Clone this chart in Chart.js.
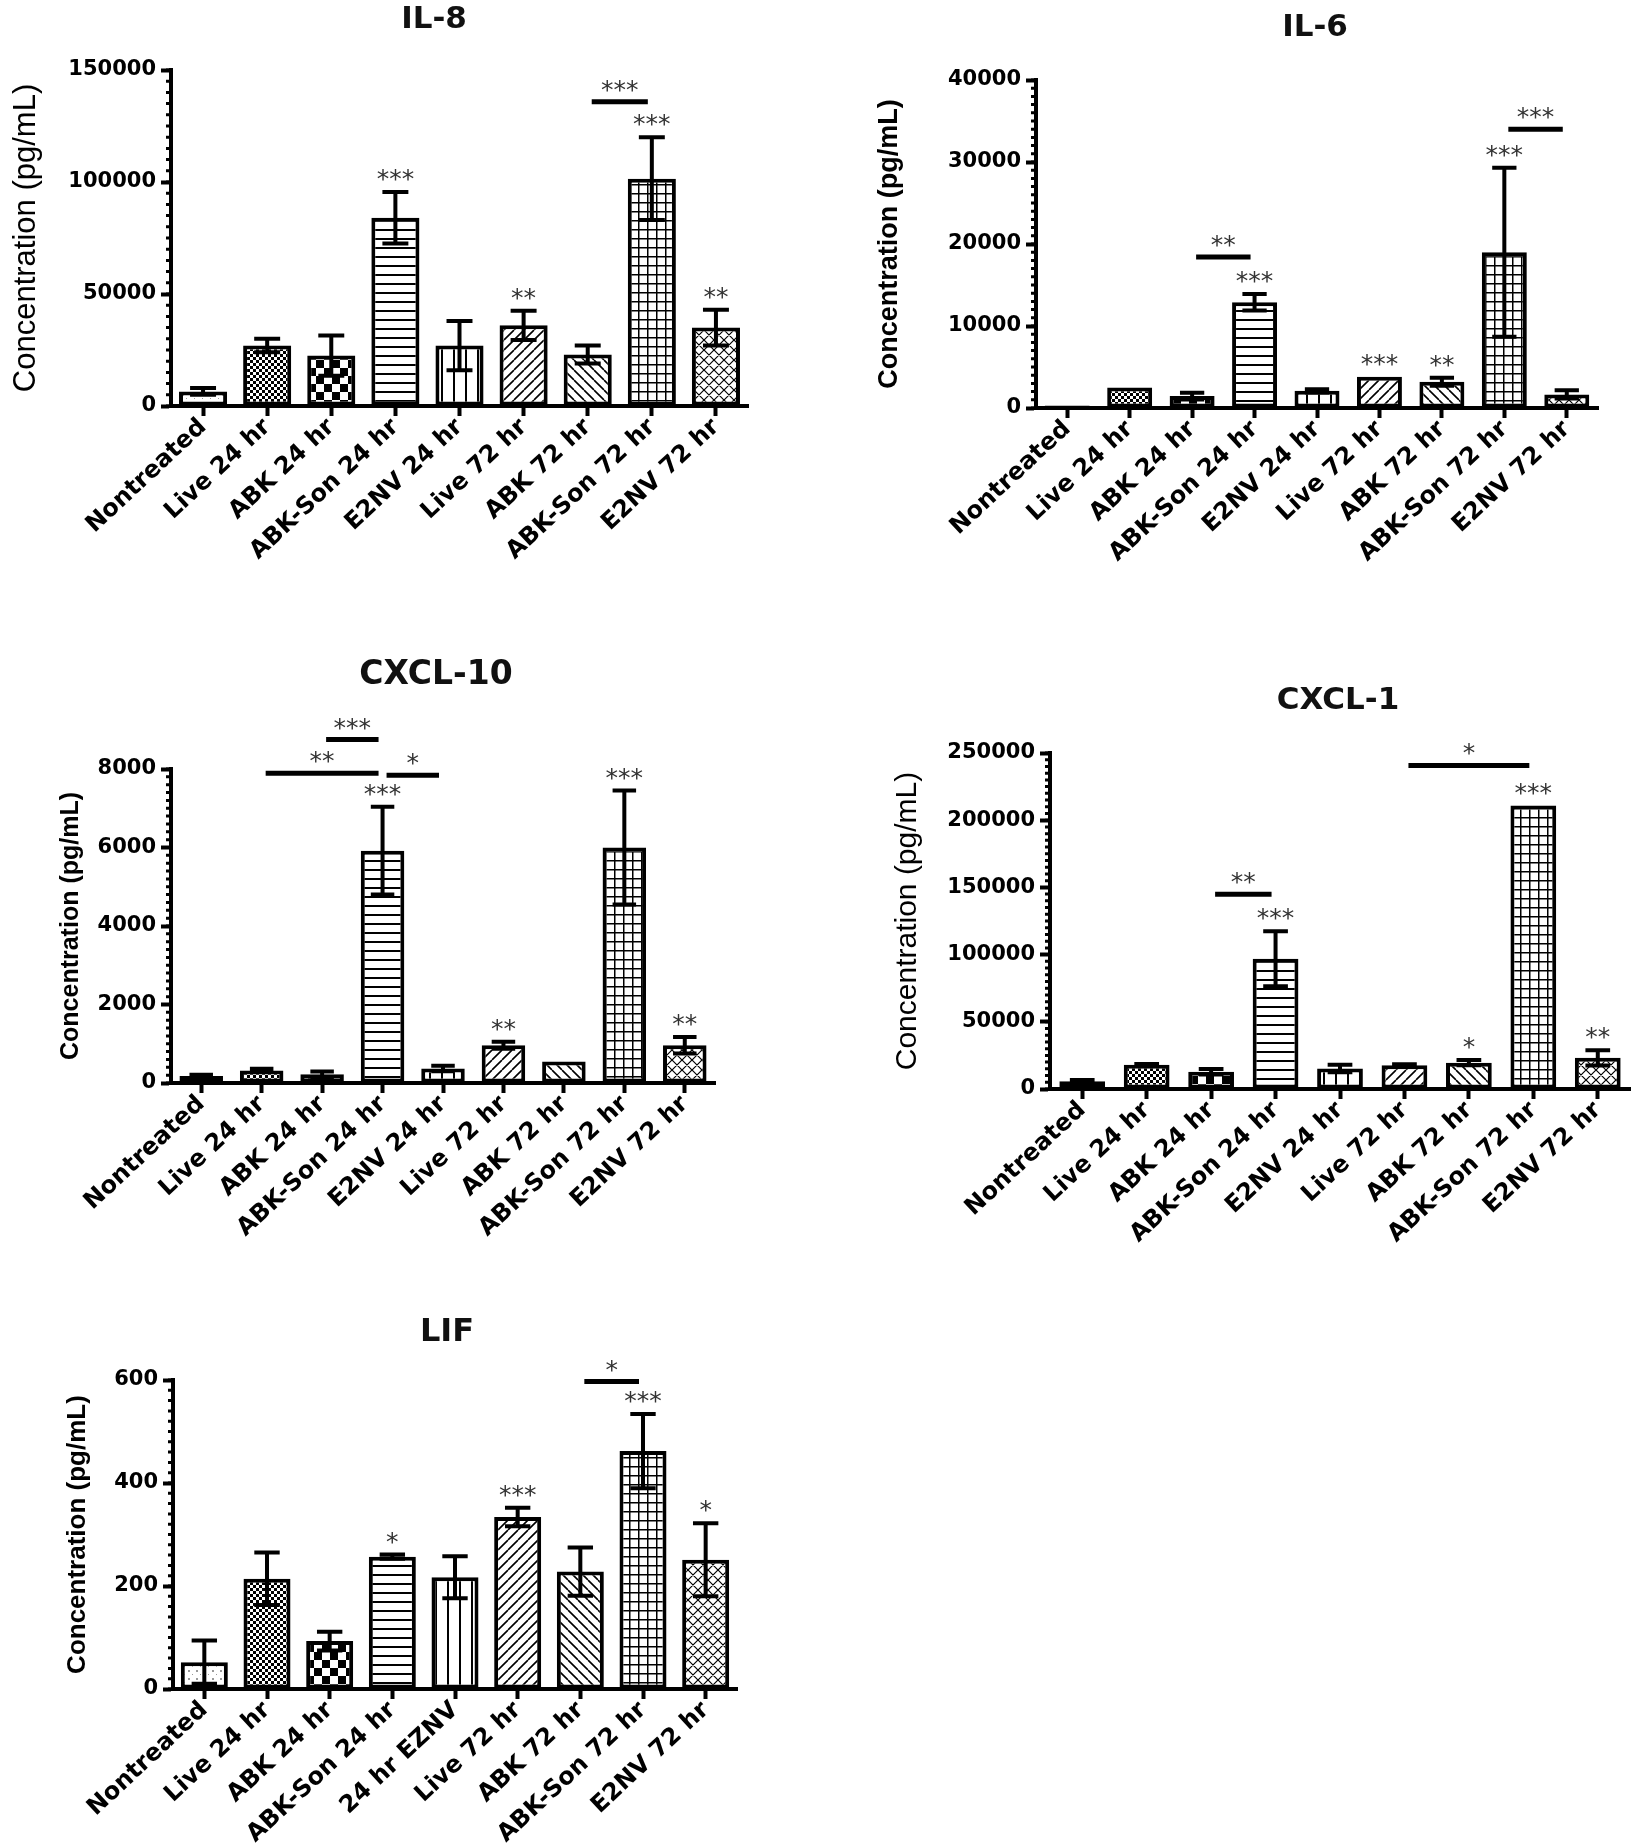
<!DOCTYPE html>
<html lang="en">
<head>
<meta charset="UTF-8">
<title>Cytokine concentrations</title>
<style>
  body { margin: 0; background: #fff; }
  #page { position: relative; width: 1647px; height: 1848px; overflow: hidden; }
  canvas { position: absolute; }
</style>
</head>
<body>
<div id="page">
  <canvas id="il8"></canvas>
  <canvas id="il6"></canvas>
  <canvas id="cxcl10"></canvas>
  <canvas id="cxcl1"></canvas>
  <canvas id="lif"></canvas>
</div>

<script src="https://cdn.jsdelivr.net/npm/chart.js"></script>
<script>
// ---- data ----
const groups = ['Nontreated', 'Live 24 hr', 'ABK 24 hr', 'ABK-Son 24 hr', 'E2NV 24 hr',
  'Live 72 hr', 'ABK 72 hr', 'ABK-Son 72 hr', 'E2NV 72 hr'];
const groupsLif = ['Nontreated', 'Live 24 hr', 'ABK 24 hr', 'ABK-Son 24 hr', '24 hr EZNV',
  'Live 72 hr', 'ABK 72 hr', 'ABK-Son 72 hr', 'E2NV 72 hr'];

const il8Mean = [6500, 27000, 22500, 84000, 27000, 36000, 23000, 101500, 35000];
const il8Err = [1500, 3000, 9000, 11500, 11000, 6500, 4000, 18500, 8000];
const il8Stars = ['', '', '', '***', '', '**', '', '***', '**'];
const il8Brackets = [[6, 7, 135800, '***']];
const il8Ticks = [0, 150000, 50000];

const il6Mean = [300, 2500, 1450, 12900, 2100, 3800, 3200, 19000, 1650];
const il6Err = [0, 0, 400, 1000, 200, 0, 500, 10300, 500];
const il6Stars = ['', '', '', '***', '', '***', '**', '***', ''];
const il6Brackets = [[2, 3, 18400, '**'], [7, 8, 34000, '***']];
const il6Ticks = [0, 40000, 10000];

const cxcl10Mean = [180, 320, 225, 5920, 370, 960, 550, 6000, 960];
const cxcl10Err = [30, 40, 70, 1120, 70, 90, 0, 1450, 210];
const cxcl10Stars = ['', '', '', '***', '', '**', '', '***', '**'];
const cxcl10Brackets = [[2, 3, 8750, '***'], [1, 3, 7890, '**'], [3, 4, 7840, '*']];
const cxcl10Ticks = [0, 8000, 2000];

const cxcl1Mean = [5700, 18100, 12800, 96900, 15300, 17600, 19600, 210900, 23200];
const cxcl1Err = [1000, 500, 2000, 20500, 2800, 800, 2000, 0, 5700];
const cxcl1Stars = ['', '', '', '***', '', '', '*', '***', '**'];
const cxcl1Brackets = [[2, 3, 144900, '**'], [5, 7, 240700, '*']];
const cxcl1Ticks = [0, 250000, 50000];

const lifMean = [52, 214, 93, 257, 217, 334, 228, 462, 251];
const lifErr = [42, 51, 18, 4, 41, 18, 47, 72, 71];
const lifStars = ['', '', '', '*', '', '***', '', '***', '*'];
const lifBrackets = [[6, 7, 597, '*']];
const lifTicks = [0, 600, 200];

// ---- fill patterns, one per treatment ----
function makePattern(size, draw) {
  const c = document.createElement('canvas');
  c.width = c.height = size;
  const g = c.getContext('2d');
  g.fillStyle = '#fff';
  g.fillRect(0, 0, size, size);
  g.fillStyle = '#000';
  g.strokeStyle = '#000';
  draw(g, size);
  return g.createPattern(c, 'repeat');
}
const fills = [
  makePattern(8, (g) => { g.fillStyle = '#999'; g.fillRect(2, 2, 2, 2); g.fillRect(6, 6, 1, 1); }),
  makePattern(6, (g) => { g.fillRect(0, 0, 3, 3); g.fillRect(3, 3, 3, 3); }),
  makePattern(16, (g) => { g.fillRect(0, 0, 8, 8); g.fillRect(8, 8, 8, 8); }),
  makePattern(9, (g) => { g.fillRect(0, 4, 9, 2); }),
  makePattern(12, (g) => { g.fillRect(5, 0, 2, 12); }),
  makePattern(10, (g, s) => {
    g.lineWidth = 1.6; g.beginPath();
    for (const k of [-s, 0, s]) { g.moveTo(k, s); g.lineTo(k + s, 0); }
    g.stroke();
  }),
  makePattern(10, (g, s) => {
    g.lineWidth = 1.6; g.beginPath();
    for (const k of [-s, 0, s]) { g.moveTo(k, 0); g.lineTo(k + s, s); }
    g.stroke();
  }),
  makePattern(9, (g) => { g.fillRect(0, 4, 9, 1.5); g.fillRect(4, 0, 1.5, 9); }),
  makePattern(10, (g, s) => {
    g.lineWidth = 1.2; g.beginPath();
    for (const k of [-s, 0, s]) { g.moveTo(k, s); g.lineTo(k + s, 0); g.moveTo(k, 0); g.lineTo(k + s, s); }
    g.stroke();
  })
];

// ---- error bars, stars, brackets, minor ticks, panel title ----
const decorations = {
  id: 'decorations',
  afterDatasetsDraw(chart, args, o) {
    const ctx = chart.ctx;
    const y = chart.scales.y;
    const bars = chart.getDatasetMeta(0).data;
    ctx.save();

    // minor ticks on the y axis
    ctx.strokeStyle = '#000';
    ctx.lineWidth = 3;
    const minor = o.step / 10;
    ctx.beginPath();
    for (let v = o.min; v <= o.max + 1e-9; v += minor) {
      const py = y.getPixelForValue(v);
      ctx.moveTo(chart.chartArea.left - 5, py);
      ctx.lineTo(chart.chartArea.left, py);
    }
    ctx.stroke();

    // error bars
    ctx.lineWidth = 4;
    o.err.forEach((e, i) => {
      if (!e) return;
      const b = bars[i];
      const cap = b.width * 0.27;
      const top = y.getPixelForValue(o.mean[i] + e);
      const bot = y.getPixelForValue(Math.max(o.mean[i] - e, 0));
      ctx.beginPath();
      ctx.moveTo(b.x, top); ctx.lineTo(b.x, bot);
      ctx.moveTo(b.x - cap, top); ctx.lineTo(b.x + cap, top);
      ctx.moveTo(b.x - cap, bot); ctx.lineTo(b.x + cap, bot);
      ctx.stroke();
    });

    // significance stars over bars
    ctx.fillStyle = '#333';
    ctx.font = o.starFont;
    ctx.textAlign = 'center';
    ctx.textBaseline = 'alphabetic';
    o.stars.forEach((s, i) => {
      if (!s) return;
      const py = y.getPixelForValue(o.mean[i] + o.err[i]);
      ctx.fillText(s, bars[i].x, py - 5);
    });

    // comparison brackets
    ctx.lineWidth = 5;
    o.brackets.forEach(([i, j, v, s]) => {
      const py = y.getPixelForValue(v);
      const x0 = bars[i].x + 4, x1 = bars[j].x - 4;
      ctx.beginPath();
      ctx.moveTo(x0, py); ctx.lineTo(x1, py);
      ctx.stroke();
      ctx.fillText(s, (x0 + x1) / 2, py - 4);
    });

    // panel title
    ctx.fillStyle = '#111';
    ctx.font = o.titleFont;
    ctx.textBaseline = 'middle';
    ctx.fillText(o.title, o.titleX, o.titleY);
    ctx.restore();
  }
};

const tickFont = { family: 'DejaVu Sans', size: 21, weight: 'bold' };
const labelFont = { family: 'DejaVu Sans', size: 24, weight: 'bold' };
const titleFace = 'bold 31px "DejaVu Sans"';

function panel(id, p) {
  const cv = document.getElementById(id);
  cv.width = p.w; cv.height = p.h;
  cv.style.left = p.left + 'px'; cv.style.top = p.top + 'px';
  const [yMin, yMax, yStep] = p.ticks;
  return new Chart(cv, {
    type: 'bar',
    data: {
      labels: p.labels,
      datasets: [{
        data: p.mean,
        backgroundColor: fills,
        borderColor: '#000',
        borderWidth: 4,
        borderSkipped: false,
        barPercentage: p.barPct,
        categoryPercentage: 1
      }]
    },
    plugins: [decorations],
    options: {
      responsive: false,
      animation: false,
      devicePixelRatio: 1,
      layout: { padding: { top: p.padTop, right: p.padRight, left: 0, bottom: 0 } },
      plugins: {
        legend: { display: false },
        tooltip: { enabled: false },
        decorations: {
          mean: p.mean, err: p.err, stars: p.stars, brackets: p.brackets,
          min: yMin, max: yMax, step: yStep,
          title: p.title, titleX: p.titleX, titleY: p.titleY, titleFont: p.titleFont || titleFace,
          starFont: '25px "DejaVu Sans"'
        }
      },
      scales: {
        x: {
          offset: true,
          afterFit: (s) => { s.height = p.xHeight; },
          ticks: { font: labelFont, color: '#000', minRotation: 43, maxRotation: 43, autoSkip: false, padding: -3 },
          grid: { drawOnChartArea: false, offset: false, tickLength: 10, tickWidth: 4, tickColor: '#000' },
          border: { color: '#000', width: 4 }
        },
        y: {
          min: yMin, max: yMax,
          afterFit: (s) => { s.width = p.yWidth; },
          ticks: { stepSize: yStep, font: tickFont, color: '#000', padding: 5, callback: (v) => String(v) },
          grid: { drawOnChartArea: false, tickLength: 10, tickWidth: 4, tickColor: '#000' },
          border: { color: '#000', width: 4 },
          title: {
            display: true, text: 'Concentration (pg/mL)', color: '#000',
            font: { family: 'Liberation Sans', size: p.yTitleSize, weight: p.yTitleWeight }
          }
        }
      }
    }
  });
}

panel('il8', {
  labels: groups, mean: il8Mean, err: il8Err, stars: il8Stars, brackets: il8Brackets, ticks: il8Ticks,
  left: 4, top: 0, w: 796, h: 620, yWidth: 167, padTop: 70, padRight: 52, xHeight: 214, barPct: 0.75,
  title: 'IL-8', titleX: 430, titleY: 20, yTitleWeight: 'normal', yTitleSize: 31
});
panel('il6', {
  labels: groups, mean: il6Mean, err: il6Err, stars: il6Stars, brackets: il6Brackets, ticks: il6Ticks,
  left: 869, top: 0, w: 778, h: 620, yWidth: 167, padTop: 80, padRight: 49, xHeight: 212, barPct: 0.72,
  title: 'IL-6', titleX: 446, titleY: 28, yTitleWeight: 'bold', yTitleSize: 27
});
panel('cxcl10', {
  labels: groups, mean: cxcl10Mean, err: cxcl10Err, stars: cxcl10Stars, brackets: cxcl10Brackets, ticks: cxcl10Ticks,
  left: 52, top: 640, w: 748, h: 620, yWidth: 119, padTop: 129, padRight: 85, xHeight: 177, barPct: 0.72,
  title: 'CXCL-10', titleX: 384, titleY: 35, titleFont: 'bold 33px "DejaVu Sans"', yTitleWeight: 'bold', yTitleSize: 25
});
panel('cxcl1', {
  labels: groups, mean: cxcl1Mean, err: cxcl1Err, stars: cxcl1Stars, brackets: cxcl1Brackets, ticks: cxcl1Ticks,
  left: 886, top: 660, w: 761, h: 620, yWidth: 164, padTop: 93, padRight: 17, xHeight: 191, barPct: 0.71,
  title: 'CXCL-1', titleX: 452, titleY: 41, yTitleWeight: 'normal', yTitleSize: 30
});
panel('lif', {
  labels: groupsLif, mean: lifMean, err: lifErr, stars: lifStars, brackets: lifBrackets, ticks: lifTicks,
  left: 58, top: 1300, w: 742, h: 548, yWidth: 115, padTop: 80, padRight: 63, xHeight: 159, barPct: 0.75,
  title: 'LIF', titleX: 389, titleY: 33, titleFont: 'bold 32px "DejaVu Sans"', yTitleWeight: 'bold', yTitleSize: 26
});
</script>
</body>
</html>
